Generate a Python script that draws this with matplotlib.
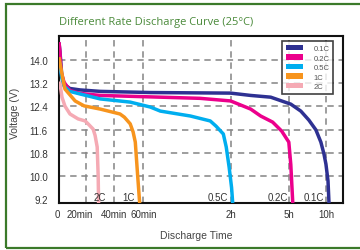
import matplotlib
matplotlib.use("Agg")
import matplotlib.pyplot as plt
import matplotlib.transforms as mtransforms
from matplotlib.patches import Patch, Rectangle
import numpy as np

# discharge time in minutes, voltage in V
t_01c = [0, 0.7, 2.0, 3.7, 8, 15.6, 30, 65, 120, 182, 244, 316, 397, 462, 519, 559, 584, 600, 617, 625]
v_01c = [14.6, 14.3, 13.5, 13.17, 13.02, 12.97, 12.92, 12.88, 12.86, 12.78, 12.72, 12.48, 12.24, 11.93, 11.59, 11.17, 10.76, 10.41, 9.83, 9.07]

t_02c = [0, 0.7, 1.5, 3.7, 8, 15.6, 30, 65, 99, 120, 151, 182, 213, 250, 278, 300, 316, 332]
v_02c = [14.62, 14.3, 13.6, 13.24, 12.95, 12.85, 12.78, 12.73, 12.68, 12.59, 12.45, 12.31, 12.07, 11.86, 11.55, 11.17, 10.4, 9.07]

t_05c = [0, 0.7, 2.0, 3.7, 8, 15.6, 30, 51, 64.8, 71.7, 92.4, 106, 110, 115, 117, 119, 123, 126.5]
v_05c = [14.05, 13.8, 13.4, 13.10, 12.92, 12.83, 12.66, 12.55, 12.38, 12.24, 12.07, 11.90, 11.72, 11.45, 11.0, 10.3, 9.6, 9.07]

t_1c = [0, 0.7, 2.2, 4.4, 11.9, 18.5, 30, 44, 47, 51, 53, 54.5, 56, 57.5]
v_1c = [14.1, 13.9, 13.52, 13.0, 12.59, 12.42, 12.31, 12.14, 12.03, 11.8, 11.52, 11.17, 10.1, 9.07]

t_2c = [0, 0.7, 2.2, 4.4, 8.1, 14.1, 19.3, 21.4, 25, 26.4, 27.9, 28.6, 28.9]
v_2c = [13.25, 13.2, 12.72, 12.41, 12.14, 11.97, 11.9, 11.8, 11.62, 11.4, 11.0, 10.0, 9.07]

rates = ["0.1C", "0.2C", "0.5C", "1C", "2C"]
colors = ["#2e3192", "#ec008c", "#00aeef", "#f7941d", "#f5aab4"]
series = [(t_01c, v_01c), (t_02c, v_02c), (t_05c, v_05c), (t_1c, v_1c), (t_2c, v_2c)]

xticks = [0, 20, 40, 60, 120, 300, 600]
xticklabels = ["0", "20min", "40min", "60min", "2h", "5h", "10h"]
yticks = [9.2, 10.0, 10.8, 11.6, 12.4, 13.2, 14.0]

# the time axis is stretched piece by piece
knots_t = [0, 20, 40, 60, 120, 300, 600, 740]
knots_u = [0, 27, 55, 84, 171, 229, 266, 283]

def fwd(t):
    return np.interp(t, knots_t, knots_u)

def inv(u):
    return np.interp(u, knots_u, knots_t)

plt.rcParams['font.family'] = ['Liberation Sans', 'DejaVu Sans']

fig = plt.figure(figsize=(3.6, 2.51), dpi=100)
ax = fig.add_axes([59/360, 1-204/251, 284/360, 167/251])
ax.set_xscale('function', functions=(fwd, inv))
ax.set_xlim(0, 740)
ax.set_ylim(9.07, 14.83)

for x in xticks[1:]:
    ax.axvline(x, color="#888888", lw=1.15, ls=(0, (4, 3)), zorder=1)
for y in yticks[1:]:
    ax.axhline(y, color="#888888", lw=1.15, ls=(0, (4, 3)), zorder=1)

for (t, v), c in zip(series, colors):
    ax.plot(t, v, color=c, lw=2.5, solid_capstyle='butt', zorder=3)

# rate labels near each curve's end
for (t, v), lab in zip(series, rates):
    if lab == "2C":
        ax.annotate(lab, (t[-1], 9.28), xytext=(0.5, 0), textcoords='offset points',
                    ha='center', va='center', fontsize=7, color="#333333", zorder=4)
    else:
        ax.annotate(lab, (t[-1], 9.28), xytext=(-3.5, 0), textcoords='offset points',
                    ha='right', va='center', fontsize=7, color="#333333", zorder=4)

ax.set_xticks(xticks)
ax.set_xticklabels(xticklabels)
ax.set_yticks(yticks)
ax.set_yticklabels(["%.1f" % y for y in yticks])
ax.tick_params(length=0, labelsize=7, labelcolor="#333333")
ax.tick_params(axis='y', pad=8)
ax.tick_params(axis='x', pad=4)
for s in ax.spines.values():
    s.set_linewidth(1.5)
    s.set_color("#111111")

# the "0" and "20min" labels sit a little left of their grid lines
shifts = {"0": -1.5, "20min": -4.5}
for lbl in ax.get_xticklabels():
    dx = shifts.get(lbl.get_text(), 0)
    if dx:
        lbl.set_transform(lbl.get_transform() +
                          mtransforms.ScaledTranslation(dx/72, 0, fig.dpi_scale_trans))

handles = [Patch(facecolor=c, edgecolor='none') for c in colors]
leg = ax.legend(handles, rates, loc='upper right', bbox_to_anchor=(0.979, 0.994),
                fontsize=5.5, handlelength=2.2, handleheight=0.8, handletextpad=1.4,
                labelspacing=0.25, borderpad=0.5, frameon=True, fancybox=False)
leg.get_frame().set_edgecolor("#111111")
leg.get_frame().set_linewidth(1.2)
for txt in leg.get_texts():
    txt.set_color("#555555")

fig.text(59/360, 1-23/251, "Different Rate Discharge Curve (25°C)", color="#4a8a3a",
         fontsize=8, family=['Open Sans', 'DejaVu Sans'], ha='left', va='center')
fig.text(15/360, 1-113/251, "Voltage (V)", rotation=90, fontsize=7.5, color="#444444",
         ha='center', va='center')
fig.text(196/360, 1-236/251, "Discharge Time", fontsize=7.5, color="#444444",
         ha='center', va='center')

fig.patches.append(Rectangle((6/360, 2/251), 1.2, 244/251, transform=fig.transFigure,
                             fill=False, edgecolor="#3b7a2a", lw=1.6))

fig.savefig("out.png", dpi=100)
